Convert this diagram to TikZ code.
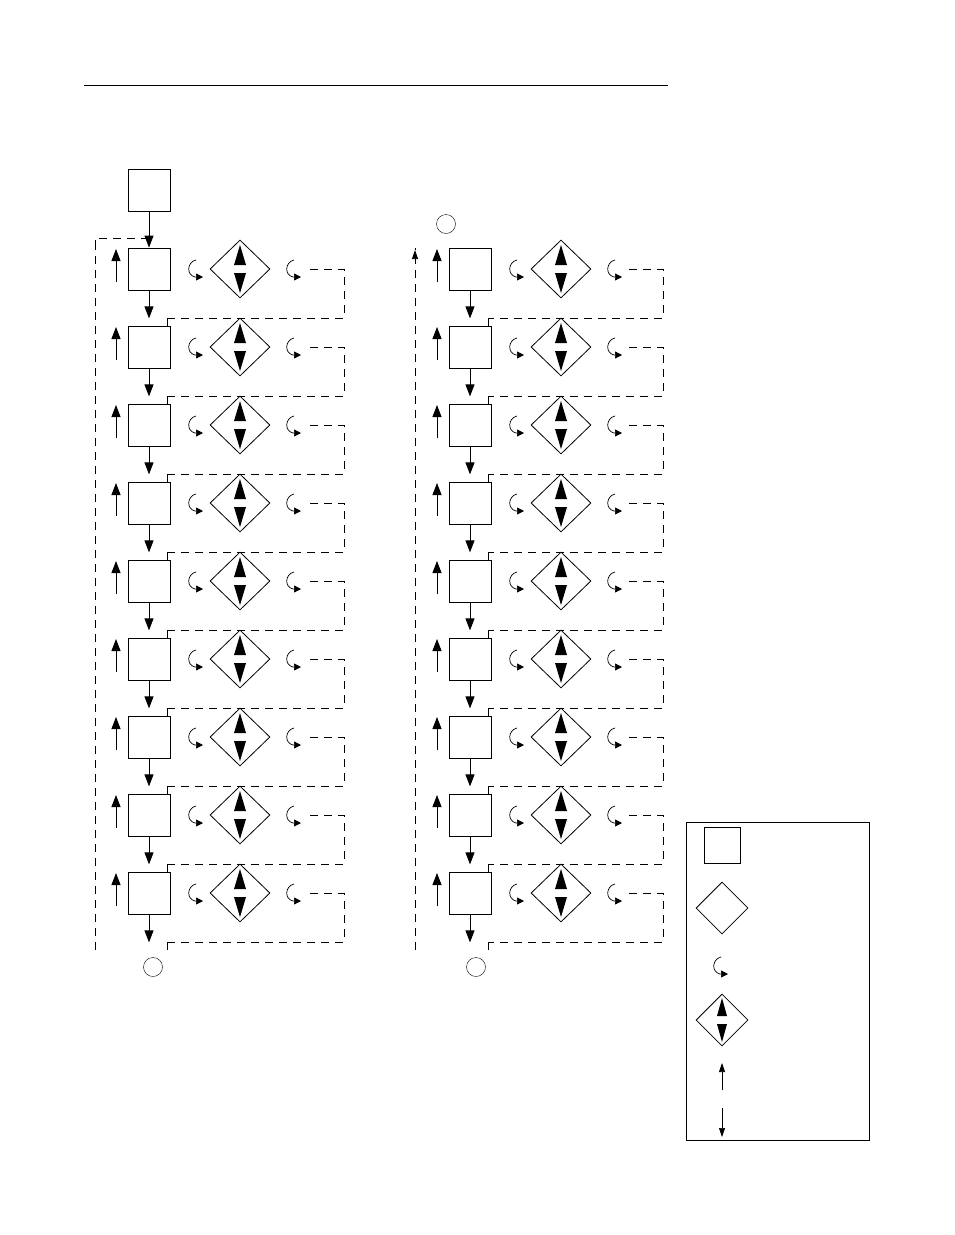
\documentclass[tikz,border=0pt]{standalone}
\usetikzlibrary{arrows.meta,shapes.geometric}
\tikzset{
  boxnode/.style={draw,line width=0.8pt,minimum size=42pt,inner sep=0pt},
  decnode/.style={draw,diamond,line width=0.8pt,minimum width=60pt,minimum height=58pt,inner sep=0pt},
  flow/.style={line width=0.8pt,-{Triangle[length=12pt,width=9pt]}},
  loopline/.style={dash pattern=on 8pt off 6pt,line width=0.9pt},
  curl/.style={line width=0.7pt,-{Triangle[length=7pt,width=7pt]}}
}
\newcommand{\dectips}[1]{% arrows inside a decision diamond
  \fill (#1)++(0,4) -- ++(-6,0) -- ++(6,20) -- ++(6,-20) -- cycle;
  \fill (#1)++(0,-4) -- ++(-6,0) -- ++(6,-20) -- ++(6,20) -- cycle;}
\newcommand{\curlarrow}[1]{% small turning arrow
  \draw[curl] (#1)++(3,-9) .. controls ++(-9,2) and ++(-9,-2) .. ++(-1,17) -- ++(8,0);}
\begin{document}
\begin{tikzpicture}[x=1pt,y=-1pt]
\useasboundingbox (0,0) rectangle (954,1235);
\draw[line width=0.6pt] (84,85) -- (668,85);
% start box
\node[boxnode] (start) at (149,190) {};
\foreach \col/\bx/\dx/\rx/\lx in {L/149/240/344/95, R/470/561/663/415}{
  \foreach \i in {1,...,9}{
    \pgfmathsetmacro{\yc}{269+78*(\i-1)}
    \node[boxnode] (box\col\i) at (\bx,\yc) {};
    \node[decnode] (dec\col\i) at (\dx,\yc) {};
    \dectips{dec\col\i.center}
    \curlarrow{\bx+44,\yc}
    \curlarrow{\dx+51,\yc}
    \draw[flow] (box\col\i.south) -- ++(0,28);
    \draw[flow,line width=1pt] (\bx-33,\yc+13) -- ++(0,-33);
    \coordinate (out\col\i) at (\rx-34,\yc);
    \coordinate (back\col\i) at (\bx+18,\yc+49);
    \draw[loopline] (out\col\i) -| (back\col\i -| \rx,0) -- (back\col\i);
    \draw[line width=0.9pt] (back\col\i) -- ++(0,8);
  }
  \draw[loopline] (\lx,950) -- (\lx,248);
}
\draw[flow] (start.south) -- (boxL1.north);
\draw[loopline] (95,248) |- (149,238);
\draw[line width=0.7pt,-{Triangle[length=9pt,width=6pt]}] (415,262) -- (415,250);
\node[draw,circle,minimum size=19pt,inner sep=0pt] (topR) at (446,224) {};
\node[draw,circle,minimum size=19pt,inner sep=0pt] (endL) at (153,967) {};
\node[draw,circle,minimum size=19pt,inner sep=0pt] (endR) at (476,967) {};
% legend
\node[draw,line width=0.6pt,minimum width=183pt,minimum height=318pt,inner sep=0pt] (legend) at (777.5,981) {};
\node[draw,line width=0.8pt,minimum size=36pt,inner sep=0pt] (lgbox) at (722,845) {};
\node[draw,diamond,line width=0.8pt,minimum width=52pt,minimum height=52pt,inner sep=0pt] (lgdec) at (722,908) {};
\curlarrow{718,966}
\node[draw,diamond,line width=0.8pt,minimum width=52pt,minimum height=52pt,inner sep=0pt] (lgdectwo) at (722,1020) {};
\fill (722,1016) -- ++(-5,0) -- ++(5,-18) -- ++(5,18) -- cycle;
\fill (722,1024) -- ++(-5,0) -- ++(5,18) -- ++(5,-18) -- cycle;
\draw[line width=0.7pt,-{Triangle[length=9pt,width=6pt]}] (722,1090) -- (722,1063);
\draw[line width=0.7pt,-{Triangle[length=9pt,width=6pt]}] (722,1108) -- (722,1137);
\end{tikzpicture}
\end{document}
